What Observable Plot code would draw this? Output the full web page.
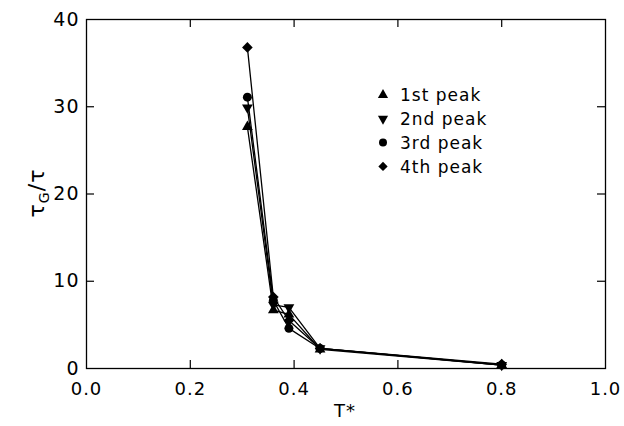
<!DOCTYPE html>
<html>
<head>
<meta charset="utf-8">
<script src="https://cdn.jsdelivr.net/npm/d3@7"></script>
<script src="https://cdn.jsdelivr.net/npm/@observablehq/plot@0.6"></script>
<style>
  html, body { margin: 0; padding: 0; background: #fff; }
  #chart svg { display: block; }
</style>
</head>
<body>
<div id="chart"></div>
<script>
// Data
const T = [0.31, 0.36, 0.39, 0.45, 0.80];
const peak1 = [27.7, 6.7, 6.2, 2.2, 0.4];
const peak2 = [29.9, 7.3, 7.0, 2.3, 0.4];
const peak3 = [31.1, 7.8, 4.6, 2.3, 0.4];
const peak4 = [36.8, 8.2, 5.5, 2.3, 0.5];
const seriesNames = ["1st peak", "2nd peak", "3rd peak", "4th peak"];
const xTicks = [0.0, 0.2, 0.4, 0.6, 0.8, 1.0];
const yTicks = [0, 10, 20, 30, 40];

const allSeries = [peak1, peak2, peak3, peak4];
const rows = [];
allSeries.forEach((vals, i) => vals.forEach((v, j) => rows.push({series: seriesNames[i], T: T[j], v})));

const symStyle = {
  "1st peak": {symbol: "triangle", rotate: 0, r: 4.0},
  "2nd peak": {symbol: "triangle", rotate: 180, r: 4.0},
  "3rd peak": {symbol: "circle", rotate: 0, r: 4.5},
  "4th peak": {symbol: "diamond2", rotate: 0, r: 4.8}
};

const W = 624, H = 426;
const mL = 86, mR = 19, mT = 19, mB = 58;
const frameH = H - mT - mB;
const font = "'DejaVu Sans', sans-serif";

const marks = [
  Plot.frame({stroke: "#000", strokeWidth: 1.3}),
  // inward ticks on all four sides
  Plot.tickX(xTicks.slice(1, -1), {x: d => d, stroke: "#000", strokeWidth: 1.2, insetTop: frameH - 8}),
  Plot.tickX(xTicks.slice(1, -1), {x: d => d, stroke: "#000", strokeWidth: 1.2, insetBottom: frameH - 8}),
  Plot.tickY(yTicks.slice(1, -1), {y: d => d, stroke: "#000", strokeWidth: 1.2, insetRight: W - mL - mR - 8}),
  Plot.tickY(yTicks.slice(1, -1), {y: d => d, stroke: "#000", strokeWidth: 1.2, insetLeft: W - mL - mR - 8}),
  Plot.axisX({ticks: xTicks, tickFormat: d3.format(".1f"), tickSize: 0, tickPadding: 14, label: null,
              fontSize: 18, fill: "#000"}),
  Plot.axisY({ticks: yTicks, tickFormat: d => d, tickSize: 0, tickPadding: 7, label: null,
              fontSize: 19, fill: "#000"})
];
seriesNames.forEach(name => {
  const data = rows.filter(r => r.series === name);
  marks.push(Plot.line(data, {x: "T", y: "v", stroke: "#000", strokeWidth: 1.3}));
});
seriesNames.forEach(name => {
  const data = rows.filter(r => r.series === name);
  const s = symStyle[name];
  marks.push(Plot.dot(data, {x: "T", y: "v", symbol: s.symbol, r: s.r, rotate: s.rotate, fill: "#000", stroke: "none"}));
});

const svgEl = Plot.plot({
  width: W, height: H,
  marginLeft: mL, marginRight: mR, marginTop: mT, marginBottom: mB,
  style: {fontFamily: font, background: "#fff", color: "#000", letterSpacing: "1px"},
  x: {domain: [0, 1]},
  y: {domain: [0, 40]},
  marks
});
document.getElementById("chart").appendChild(svgEl);

const svg = d3.select(svgEl);
// Axis labels
svg.append("text")
  .attr("x", 345).attr("y", 417)
  .attr("text-anchor", "middle")
  .attr("font-family", font).attr("font-size", 18).attr("fill", "#000")
  .text("T*");

const yl = svg.append("text")
  .attr("transform", "translate(44,193) rotate(-90)")
  .attr("text-anchor", "middle")
  .attr("font-family", font).attr("font-size", 22).attr("fill", "#000");
yl.append("tspan").text("τ");
yl.append("tspan").attr("font-size", 14).attr("dy", 5).text("G");
yl.append("tspan").attr("dy", -5).attr("font-size", 22).text("/τ");

// Legend
const legendSymbols = {
  "1st peak": d3.symbol(d3.symbolTriangle, 45),
  "2nd peak": d3.symbol(d3.symbolTriangle, 45),
  "3rd peak": d3.symbol(d3.symbolCircle, 50),
  "4th peak": d3.symbol(d3.symbolDiamond2, 55)
};
const lg = svg.append("g").attr("text-anchor", "start");
seriesNames.forEach((name, i) => {
  const y = 95 + i * 23.8;
  const rot = name === "2nd peak" ? 180 : 0;
  lg.append("path")
    .attr("d", legendSymbols[name]())
    .attr("transform", `translate(383,${y}) rotate(${rot})`)
    .attr("fill", "#000");
  lg.append("text")
    .attr("x", 400).attr("y", y).attr("dy", "0.36em")
    .attr("text-anchor", "start")
    .attr("font-family", font).attr("font-size", 17).attr("letter-spacing", "1px").attr("fill", "#000")
    .text(name);
});
</script>
</body>
</html>
